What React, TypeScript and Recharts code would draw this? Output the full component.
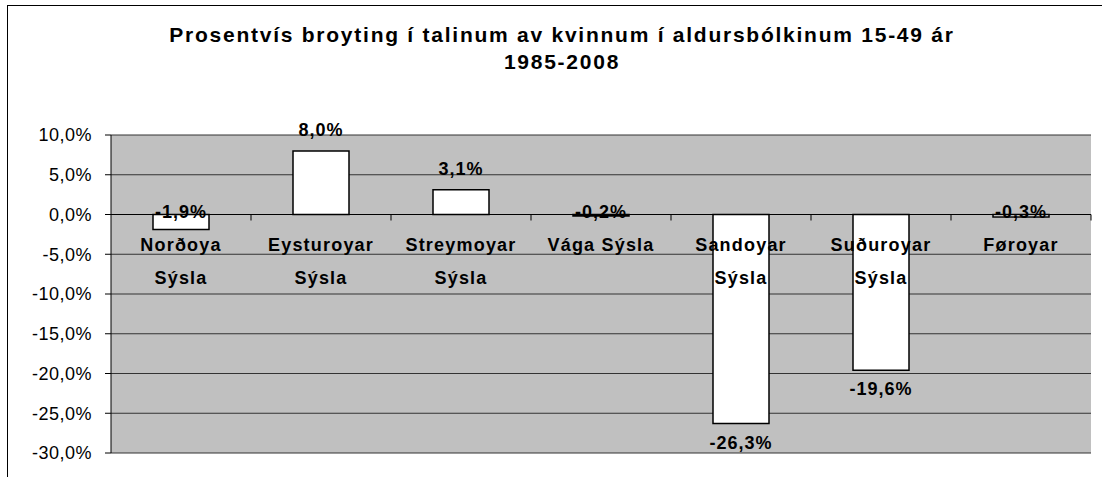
import { BarChart, Bar, XAxis, YAxis, CartesianGrid, ReferenceLine, LabelList } from "recharts";

const categories = [
  "Norðoya\nSýsla",
  "Eysturoyar\nSýsla",
  "Streymoyar\nSýsla",
  "Vága Sýsla",
  "Sandoyar\nSýsla",
  "Suðuroyar\nSýsla",
  "Føroyar",
];
const values = [-1.9, 8.0, 3.1, -0.2, -26.3, -19.6, -0.3];
const yTicks = [10, 5, 0, -5, -10, -15, -20, -25, -30];

const data = categories.map((name, i) => ({ name, v: values[i] }));

const font = "Arial, 'Liberation Sans', sans-serif";
const fmt = (v: number) => v.toFixed(1).replace(".", ",") + "%";

// bar box from label props, whichever way recharts hands over negative heights
function box(p: any) {
  const vb = p.viewBox ?? p;
  const x = Number(vb.x), y = Number(vb.y), w = Number(vb.width), h = Number(vb.height);
  return { x, w, top: Math.min(y, y + h), bottom: Math.max(y, y + h) };
}

function CategoryLabel(p: any) {
  const i = p.index ?? 0;
  const v = values[i];
  const { x, w, top, bottom } = box(p);
  const zero = v >= 0 ? bottom : top;
  const cx = x + w / 2;
  const band = w / 0.4;
  const left = cx - band / 2;
  const lines = categories[i].split("\n");
  return (
    <g>
      {i > 0 && <line x1={left} x2={left} y1={zero} y2={zero + 6} stroke="#000" />}
      {i === categories.length - 1 && (
        <line x1={left + band} x2={left + band} y1={zero} y2={zero + 6} stroke="#000" />
      )}
      {lines.map((t, k) => (
        <text key={k} x={cx} y={zero + 36 + k * 33} textAnchor="middle" fontFamily={font}
          fontWeight="bold" fontSize={18} letterSpacing={1.2} fill="#000">{t}</text>
      ))}
    </g>
  );
}

function ValueLabel(p: any) {
  const i = p.index ?? 0;
  const v = values[i];
  const { x, w, top, bottom } = box(p);
  let y: number;
  if (v >= 0) y = top - 15;
  else if (v > -2) y = top + 3;
  else y = bottom + 25;
  return (
    <text x={x + w / 2} y={y} textAnchor="middle" fontFamily={font} fontWeight="bold"
      fontSize={18} letterSpacing={1} fill="#000">{fmt(v)}</text>
  );
}

export default function App() {
  return (
    <div style={{ position: "absolute", left: 0, top: 0, width: 1102, height: 477, overflow: "hidden", background: "#fff" }}>
      <div style={{ position: "absolute", left: 7, top: 5, width: 1200, height: 600, border: "1px solid #000" }} />
      <div style={{ position: "absolute", left: 0, top: 0 }}>
        <BarChart width={1102} height={477} data={data} barCategoryGap="30%"
          margin={{ top: 135, right: 11, bottom: 24, left: 0 }}>
          <CartesianGrid vertical={false} stroke="#333" fill="#C0C0C0" fillOpacity={1} />
          <XAxis dataKey="name" tick={false} tickLine={false} height={0}
            axisLine={{ stroke: "#808080", strokeWidth: 2 }} />
          <YAxis domain={[-30, 10]} ticks={yTicks} interval={0} width={111} tickSize={6} tickMargin={13}
            axisLine={{ stroke: "#000" }} tickLine={{ stroke: "#000" }}
            tickFormatter={fmt}
            tick={{ fontSize: 18, fill: "#000", fontFamily: font, letterSpacing: 0.5 }} />
          <YAxis yAxisId="r" orientation="right" domain={[-30, 10]} width={0} tick={false} tickLine={false}
            axisLine={{ stroke: "#808080", strokeWidth: 2 }} />
          <ReferenceLine y={0} stroke="#000" strokeWidth={1} />
          <Bar dataKey="v" fill="#fff" stroke="#000" strokeWidth={1.5} isAnimationActive={false}>
            <LabelList dataKey="name" content={CategoryLabel} />
            <LabelList dataKey="v" content={ValueLabel} />
          </Bar>
        </BarChart>
      </div>
      <div style={{ position: "absolute", left: 0, top: 21, width: 1124, textAlign: "center", fontFamily: font,
        fontWeight: "bold", fontSize: 21, lineHeight: "27px", letterSpacing: 1.75, color: "#000" }}>
        Prosentvís broyting í talinum av kvinnum í aldursbólkinum 15-49 ár
        <br />
        1985-2008
      </div>
    </div>
  );
}
